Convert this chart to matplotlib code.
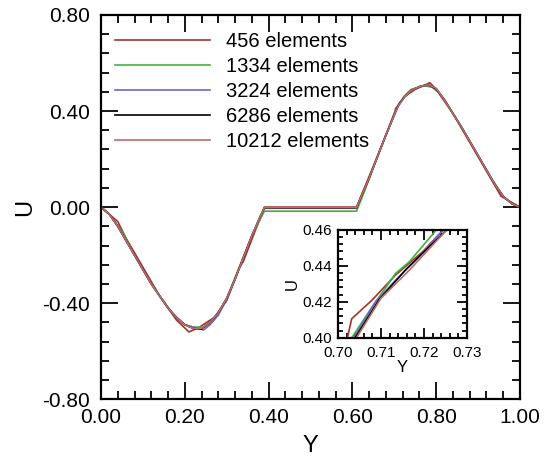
import matplotlib
matplotlib.use("Agg")
import matplotlib.pyplot as plt
from matplotlib.ticker import MultipleLocator, AutoMinorLocator

plt.rcParams["font.family"] = ["Liberation Sans", "DejaVu Sans"]

labels = ["456 elements", "1334 elements", "3224 elements", "6286 elements", "10212 elements"]
colors = ["#a8302c", "#3cb43c", "#6868d0", "#000000", "#c06a6a"]

# coarse mesh
y456 = [0.0, 0.03, 0.04, 0.06, 0.10, 0.14, 0.18, 0.21, 0.235, 0.27, 0.30, 0.33, 0.34, 0.39,
        0.61, 0.65, 0.68, 0.7022, 0.7032, 0.7079, 0.7134, 0.7197, 0.7245, 0.75, 0.785, 0.80,
        0.84, 0.88, 0.92, 0.955, 0.965, 1.0]
u456 = [0.0, -0.045, -0.06, -0.13, -0.25, -0.37, -0.47, -0.52, -0.50, -0.46, -0.39, -0.255, -0.225, 0.0,
        0.0, 0.17, 0.30, 0.40, 0.4106, 0.4209, 0.4349, 0.4479, 0.46, 0.49, 0.518, 0.49,
        0.39, 0.27, 0.15, 0.045, 0.035, 0.0]

y1334 = [0.0, 0.02, 0.05, 0.08, 0.11, 0.14, 0.17, 0.20, 0.22, 0.245, 0.27, 0.30, 0.33, 0.36, 0.39,
         0.61, 0.63, 0.66, 0.69, 0.7032, 0.7079, 0.7134, 0.7166, 0.7229, 0.74, 0.77, 0.79, 0.81,
         0.84, 0.87, 0.90, 0.93, 0.96, 0.98, 1.0]
u1334 = [0.0, -0.03, -0.10, -0.20, -0.29, -0.37, -0.44, -0.49, -0.50, -0.50, -0.47, -0.38, -0.25, -0.12, -0.017,
         -0.017, 0.07, 0.21, 0.34, 0.40, 0.417, 0.4358, 0.4423, 0.46, 0.49, 0.505, 0.50, 0.47,
         0.39, 0.305, 0.215, 0.125, 0.045, 0.015, 0.0]

y3224 = [0.0, 0.02, 0.04, 0.06, 0.08, 0.10, 0.12, 0.14, 0.16, 0.18, 0.20, 0.22, 0.245, 0.26, 0.28,
         0.30, 0.32, 0.34, 0.36, 0.38, 0.39, 0.61, 0.62, 0.64, 0.66, 0.68, 0.7037, 0.7087, 0.7134,
         0.718, 0.7245, 0.74, 0.76, 0.78, 0.80, 0.82, 0.84, 0.86, 0.88, 0.90, 0.92, 0.94, 0.96,
         0.98, 1.0]
u3224 = [0.0, -0.03, -0.08, -0.14, -0.20, -0.26, -0.32, -0.37, -0.42, -0.46, -0.49, -0.50, -0.512, -0.49, -0.45,
         -0.385, -0.30, -0.21, -0.12, -0.04, -0.005, -0.005, 0.04, 0.12, 0.21, 0.30, 0.40, 0.42, 0.432,
         0.443, 0.46, 0.485, 0.50, 0.508, 0.492, 0.447, 0.39, 0.335, 0.275, 0.215, 0.155, 0.095, 0.045,
         0.015, 0.0]

y6286 = [0.0, 0.02, 0.04, 0.06, 0.08, 0.10, 0.12, 0.14, 0.16, 0.18, 0.20, 0.22, 0.24, 0.26, 0.28,
         0.30, 0.32, 0.34, 0.36, 0.38, 0.39, 0.61, 0.62, 0.64, 0.66, 0.68, 0.704, 0.7095, 0.7158,
         0.7253, 0.74, 0.76, 0.78, 0.80, 0.82, 0.84, 0.86, 0.88, 0.90, 0.92, 0.94, 0.96, 0.98, 1.0]
u6286 = [0.0, -0.03, -0.08, -0.14, -0.20, -0.26, -0.32, -0.37, -0.42, -0.46, -0.49, -0.505, -0.508, -0.48, -0.44,
         -0.38, -0.30, -0.21, -0.12, -0.04, -0.003, -0.003, 0.04, 0.12, 0.21, 0.30, 0.40, 0.421, 0.438,
         0.46, 0.485, 0.502, 0.51, 0.493, 0.446, 0.39, 0.335, 0.275, 0.215, 0.155, 0.095, 0.045, 0.015, 0.0]

y10212 = [0.0, 0.02, 0.04, 0.06, 0.08, 0.10, 0.12, 0.14, 0.16, 0.18, 0.20, 0.22, 0.24, 0.26, 0.28,
          0.30, 0.32, 0.34, 0.36, 0.38, 0.39, 0.61, 0.62, 0.64, 0.66, 0.68, 0.7043, 0.71, 0.7166,
          0.7253, 0.74, 0.76, 0.78, 0.80, 0.82, 0.84, 0.86, 0.88, 0.90, 0.92, 0.94, 0.96, 0.98, 1.0]
u10212 = [0.0, -0.03, -0.08, -0.14, -0.20, -0.26, -0.32, -0.37, -0.42, -0.46, -0.49, -0.505, -0.505, -0.48, -0.44,
          -0.38, -0.30, -0.21, -0.12, -0.04, -0.002, -0.002, 0.04, 0.12, 0.21, 0.30, 0.40, 0.422, 0.4376,
          0.46, 0.485, 0.502, 0.51, 0.495, 0.445, 0.39, 0.335, 0.275, 0.215, 0.155, 0.095, 0.045, 0.015, 0.0]

series = [(y456, u456), (y1334, u1334), (y3224, u3224), (y6286, u6286), (y10212, u10212)]


def style_axes(ax, lw, major_len, minor_len, fs, pad_x, pad_y):
    for s in ax.spines.values():
        s.set_linewidth(lw)
    ax.tick_params(which="both", direction="in", top=True, right=True, width=lw * 0.8)
    ax.tick_params(which="major", length=major_len, labelsize=fs)
    ax.tick_params(which="minor", length=minor_len)
    ax.tick_params(axis="x", pad=pad_x)
    ax.tick_params(axis="y", pad=pad_y)


fig = plt.figure(figsize=(5.45, 4.68), dpi=100)
ax = fig.add_axes([0.1853, 0.147, 0.7687, 0.821])

for (y, u), c, lab in zip(series, colors, labels):
    ax.plot(y, u, color=c, lw=1.2, label=lab)

ax.set_xlim(0, 1)
ax.set_ylim(-0.8, 0.8)
ax.xaxis.set_major_locator(MultipleLocator(0.2))
ax.xaxis.set_minor_locator(AutoMinorLocator(5))
ax.yaxis.set_major_locator(MultipleLocator(0.4))
ax.yaxis.set_minor_locator(AutoMinorLocator(5))
ax.xaxis.set_major_formatter(plt.FormatStrFormatter("%.2f"))
ax.yaxis.set_major_formatter(plt.FormatStrFormatter("%.2f"))
style_axes(ax, 1.6, 12, 6, 15, 6, 8)
ax.set_xlabel("Y", fontsize=17, labelpad=6)
ax.set_ylabel("U", fontsize=17, labelpad=4)

ax.legend(loc="upper left", bbox_to_anchor=(0.033, 0.955), frameon=False, fontsize=14.5,
          borderpad=0, borderaxespad=0,
          handlelength=4.75, handletextpad=0.75, labelspacing=0.3)

# inset zoom
axin = fig.add_axes([0.620, 0.278, 0.237, 0.231])
for (y, u), c in zip(series, colors):
    axin.plot(y, u, color=c, lw=1.2)
axin.set_xlim(0.70, 0.73)
axin.set_ylim(0.40, 0.46)
axin.xaxis.set_major_locator(MultipleLocator(0.01))
axin.xaxis.set_minor_locator(AutoMinorLocator(5))
axin.yaxis.set_major_locator(MultipleLocator(0.02))
axin.yaxis.set_minor_locator(AutoMinorLocator(5))
axin.xaxis.set_major_formatter(plt.FormatStrFormatter("%.2f"))
axin.yaxis.set_major_formatter(plt.FormatStrFormatter("%.2f"))
style_axes(axin, 1.6, 7, 3.5, 11, 6, 4)
axin.set_xlabel("Y", fontsize=12, labelpad=0)
axin.set_ylabel("U", fontsize=12, labelpad=2)

fig.savefig("out.png", dpi=100)
